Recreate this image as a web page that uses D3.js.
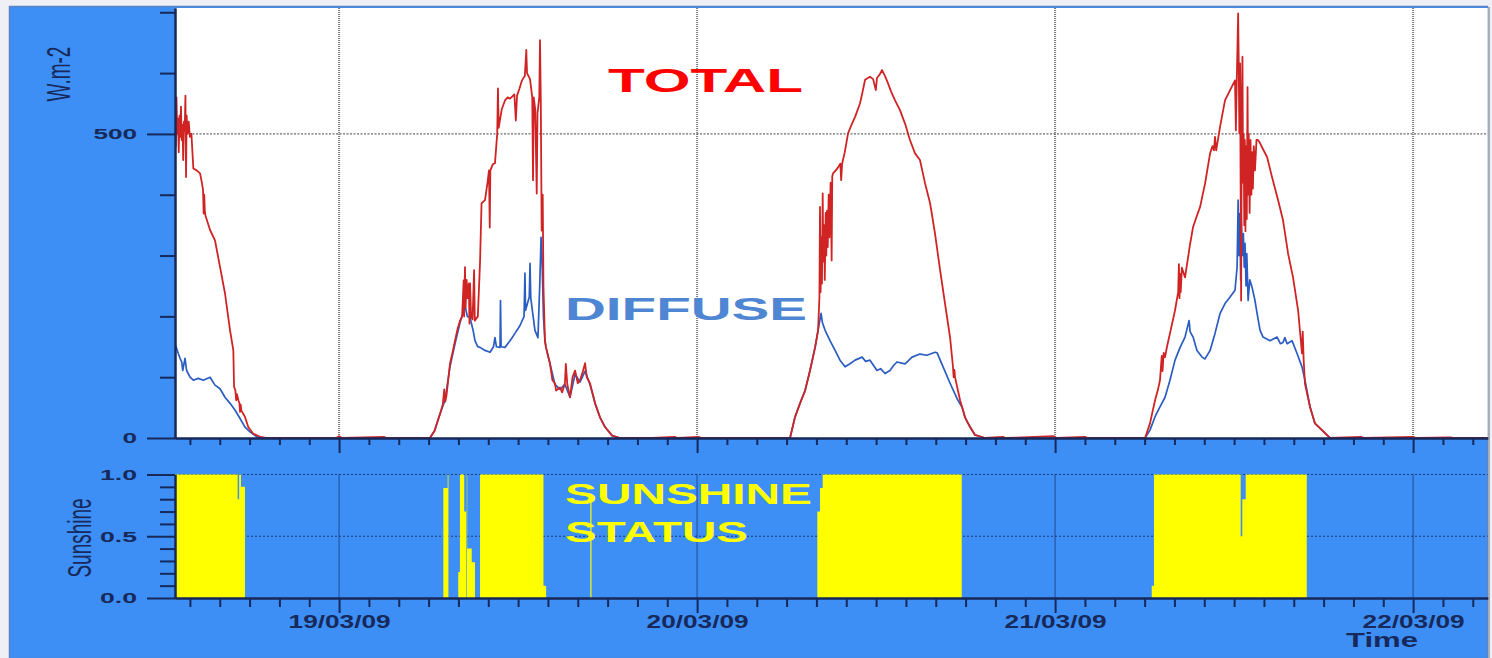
<!DOCTYPE html>
<html>
<head>
<meta charset="utf-8">
<script src="https://cdn.jsdelivr.net/npm/d3@7"></script>
<style>
  html, body { margin: 0; padding: 0; background: #eef0f5; }
  svg { display: block; }
</style>
</head>
<body>
<svg id="chart" width="1492" height="658"></svg>
<script>
// ---------------- DATA (hours counted from 18/03/09 00:00, values in W.m-2) ----------------
const totalReadings = [
  // 18/03 afternoon
  [13.00,540],[13.05,480],[13.10,560],[13.15,500],[13.20,525],[13.25,470],[13.30,530],[13.35,495],
  [13.40,545],[13.45,490],[13.50,515],[13.55,457],[13.60,520],[13.65,505],[13.70,563],[13.74,429],
  [13.78,530],[13.85,500],[13.92,520],[14.00,495],[14.10,500],[14.23,443],[14.45,440],[14.68,435],
  [14.80,420],[14.88,408],[14.92,369],[14.96,400],[15.00,372],[15.05,365],[15.35,342],[15.68,325],
  [16.02,281],[16.35,238],[16.69,177],[16.91,144],[16.96,84],[17.05,78],[17.10,62],[17.15,72],
  [17.25,62],[17.32,57],[17.36,43],[17.40,55],[17.45,45],[17.69,35],[17.91,18],[18.25,7],[18.70,2],
  [19.10,0],[22.00,0],[23.80,0],[24.00,3],[24.20,0],[27.00,2],[27.20,0],
  // 19/03
  [30.09,0],[30.40,12],[30.77,40],[30.95,55],[31.05,80],[31.12,60],[31.20,70],[31.44,123],[31.60,140],
  [31.77,160],[31.95,180],[32.11,193],[32.25,200],[32.35,259],[32.38,200],[32.44,281],[32.48,215],
  [32.55,260],[32.62,230],[32.70,254],[32.74,188],[32.78,254],[32.85,200],[32.95,195],[33.05,276],
  [33.10,193],[33.30,200],[33.45,290],[33.55,386],[33.78,391],[33.95,420],[34.05,440],[34.10,346],
  [34.14,440],[34.30,450],[34.45,452],[34.60,500],[34.65,575],[34.70,510],[34.90,540],[35.12,555],
  [35.30,560],[35.46,558],[35.75,565],[35.85,522],[35.93,563],[36.10,575],[36.26,588],[36.45,595],
  [36.55,638],[36.60,600],[36.80,590],[36.95,560],[37.00,424],[37.05,560],[37.15,540],[37.25,402],
  [37.30,534],[37.42,560],[37.47,654],[37.52,560],[37.58,341],[37.65,400],[37.70,250],[37.80,160],
  [37.87,149],[38.14,122],[38.30,95],[38.47,90],[38.55,78],[38.81,83],[38.95,75],[39.14,90],[39.20,122],
  [39.30,88],[39.48,67],[39.65,100],[39.82,111],[40.00,90],[40.15,95],[40.35,110],[40.49,123],[40.60,100],
  [40.82,90],[41.16,57],[41.49,34],[41.83,18],[42.30,4],[42.83,0],
  [45.00,0],[46.50,2],[46.70,0],[48.10,2],[48.30,0],
  // 20/03
  [54.23,0],[54.56,34],[54.90,57],[55.24,78],[55.57,111],[55.91,149],[56.11,177],[56.20,231],[56.24,380],
  [56.28,240],[56.33,330],[56.37,254],[56.42,402],[56.46,290],[56.52,350],[56.56,260],[56.62,370],
  [56.66,300],[56.71,374],[56.76,314],[56.82,400],[56.87,330],[56.95,420],[57.02,292],[57.06,430],
  [57.11,435],[57.30,440],[57.45,445],[57.60,451],[57.66,424],[57.72,451],[57.90,470],[58.12,501],
  [58.35,515],[58.59,528],[58.92,550],[59.10,570],[59.26,589],[59.45,592],[59.59,594],[59.80,590],
  [59.98,572],[60.06,592],[60.25,598],[60.40,605],[60.60,595],[60.80,583],[61.00,570],[61.27,555],
  [61.60,539],[61.94,517],[62.27,490],[62.61,468],[62.94,457],[63.28,419],[63.62,386],[63.95,336],
  [64.29,276],[64.62,221],[64.96,165],[65.15,118],[65.20,100],[65.25,112],[65.29,100],[65.63,62],
  [65.96,34],[66.30,18],[66.63,5],[67.30,0],
  [68.50,2],[68.70,0],[71.90,3],[72.10,0],[74.00,2],[74.20,0],
  // 21/03
  [78.03,0],[78.36,24],[78.70,62],[78.90,80],[79.03,95],[79.15,135],[79.20,110],[79.28,140],[79.37,133],
  [79.50,150],[79.70,172],[80.04,210],[80.25,240],[80.30,286],[80.34,230],[80.38,270],[80.42,240],
  [80.50,280],[80.71,264],[81.05,319],[81.25,347],[81.50,365],[81.72,380],[82.05,418],[82.39,468],
  [82.55,480],[82.65,473],[82.72,495],[82.80,473],[83.06,512],[83.39,555],[83.73,572],[84.06,588],
  [84.12,506],[84.18,590],[84.27,698],[84.31,616],[84.35,501],[84.40,616],[84.47,226],[84.52,560],
  [84.56,627],[84.60,420],[84.64,500],[84.68,350],[84.72,490],[84.76,340],[84.80,480],[84.85,360],
  [84.90,577],[84.94,400],[84.98,500],[85.04,370],[85.10,490],[85.16,400],[85.20,470],[85.26,410],
  [85.32,480],[85.40,440],[85.50,490],[85.60,490],[85.74,485],[85.87,478],[86.21,462],[86.54,429],
  [86.95,391],[87.28,358],[87.62,303],[87.95,264],[88.29,210],[88.40,180],[88.55,139],[88.60,175],
  [88.66,130],[88.75,89],[89.09,51],[89.42,24],[89.89,13],[90.43,0],
  [92.50,2],[92.70,0],[96.00,2],[96.20,0],[98.50,1],[98.70,0],[101.00,0]
];

const diffuseReadings = [
  // 18/03 afternoon
  [13.00,155],[13.22,139],[13.34,131],[13.45,125],[13.52,111],[13.67,131],[13.78,111],[14.01,100],
  [14.23,95],[14.56,98],[14.90,95],[15.35,100],[15.68,87],[16.02,81],[16.35,67],[16.69,57],[17.02,46],
  [17.36,32],[17.69,18],[18.03,10],[18.48,2],[19.10,0],[30.09,0],
  // 19/03
  [30.40,12],[30.77,40],[31.10,62],[31.44,118],[31.77,155],[32.11,190],[32.30,205],[32.44,218],
  [32.60,200],[32.78,198],[33.00,175],[33.11,160],[33.30,150],[33.45,149],[33.78,144],[34.12,141],
  [34.35,150],[34.45,165],[34.55,150],[34.79,149],[34.82,226],[34.86,150],[35.12,149],[35.46,160],
  [35.79,172],[36.13,185],[36.40,200],[36.46,271],[36.50,210],[36.75,232],[36.80,287],[36.85,230],
  [37.13,177],[37.33,165],[37.45,250],[37.54,330],[37.60,300],[37.70,200],[37.80,160],[37.87,149],
  [38.14,122],[38.47,88],[38.81,80],[39.14,88],[39.48,67],[39.82,105],[40.15,92],[40.49,110],[40.82,88],
  [41.16,57],[41.49,34],[41.83,18],[42.30,4],[42.83,0],[54.23,0],
  // 20/03
  [54.56,34],[54.90,57],[55.24,78],[55.57,111],[55.91,149],[56.11,177],[56.31,205],[56.40,190],
  [56.58,177],[56.91,160],[57.25,144],[57.58,128],[57.92,117],[58.25,122],[58.59,128],[59.06,133],
  [59.30,126],[59.59,128],[60.06,111],[60.30,114],[60.60,106],[60.93,111],[61.20,120],[61.40,125],
  [61.94,122],[62.41,133],[62.94,138],[63.41,136],[63.95,141],[64.09,140],[64.49,117],[64.96,90],
  [65.42,65],[65.76,51],[65.96,34],[66.30,18],[66.63,5],[67.30,0],[78.03,0],
  // 21/03
  [78.36,13],[78.70,35],[79.03,51],[79.37,67],[79.70,95],[80.04,128],[80.38,149],[80.71,166],
  [80.98,193],[81.05,175],[81.25,166],[81.51,144],[81.85,133],[82.05,130],[82.39,144],[82.72,172],
  [83.06,205],[83.39,221],[83.73,232],[84.06,243],[84.20,281],[84.27,391],[84.32,300],[84.38,369],
  [84.44,260],[84.47,369],[84.55,300],[84.62,336],[84.68,281],[84.73,320],[84.80,250],[84.85,303],
  [84.94,226],[85.05,260],[85.20,248],[85.40,226],[85.54,205],[85.74,177],[85.94,166],[86.41,160],
  [86.88,166],[87.10,155],[87.28,157],[87.40,165],[87.55,155],[87.88,160],[88.22,139],[88.55,117],
  [88.75,95],[89.09,51],[89.42,24],[89.89,13],[90.43,0],[101.00,0]
];

// sunshine status: value holds from this hour until the next entry
const sunshineSteps = [
  [13.00,1],[17.20,0.8],[17.30,1],[17.42,0.9],[17.69,0],
  [30.99,0.89],[31.28,1],[31.33,0],[31.99,0.21],[32.10,1],[32.39,0.7],[32.52,0],[32.56,1],[32.59,0.4],
  [32.89,0.29],[33.11,0],[33.45,1],[37.70,0.1],[37.88,0],
  [40.84,0.8],[40.92,0],
  [56.06,0.7],[56.24,0.89],[56.42,1],[65.74,0],
  [78.48,0.1],[78.63,1],[84.44,0.5],[84.55,0.8],[84.78,1],[88.87,0],
  [101.00,0]
];

const dayLabels = ["19/03/09", "20/03/09", "21/03/09", "22/03/09"];
const radMajorTicks = [0, 500];
const radMinorTicks = [100, 200, 300, 400, 600, 700];
const sunMajorTicks = [0, 0.5, 1];
const sunMinorTicks = [0.1, 0.2, 0.3, 0.4, 0.6, 0.7, 0.8, 0.9];
const radAxisTitle = "W.m-2";
const sunAxisTitle = "Sunshine";
const timeTitle = "Time";
const annotations = ["TOTAL", "DIFFUSE", "SUNSHINE", "STATUS"];

// ---------------- DRAWING ----------------
const BASE = Date.UTC(2009, 2, 18);
const at = h => new Date(BASE + h * 3600000);
const parseDay = d3.utcParse("%d/%m/%y");

const blue = "#3d8ef5";
const navy = "#16295a";

const svg = d3.select("#chart");

// outer frame
svg.append("rect").attr("x", 9.5).attr("y", 6.5).attr("width", 1478).attr("height", 652)
  .attr("fill", blue).attr("stroke", "#5b84c8").attr("stroke-width", 1.5);
svg.append("rect").attr("x", 1488).attr("y", 7).attr("width", 2).attr("height", 651).attr("fill", "#a7adb6");

const x = d3.scaleUtc().domain([at(13), at(101)]).range([175, 1487.7]);
const yRad = d3.scaleLinear().domain([0, 707]).range([438, 8]);
const ySun = d3.scaleLinear().domain([0, 1]).range([598, 474.5]);

// white plotting area
svg.append("rect").attr("x", 175).attr("y", 8).attr("width", 1312.7).attr("height", 430).attr("fill", "#ffffff");

const dayDates = dayLabels.map(parseDay);

// grid (top)
const gTop = svg.append("g");
gTop.selectAll("line.vg").data(dayDates).join("line")
  .attr("x1", d => x(d)).attr("x2", d => x(d)).attr("y1", yRad.range()[1]).attr("y2", yRad(0))
  .attr("stroke", "#7a7a7a").attr("stroke-width", 2).attr("stroke-dasharray", "1 1");
gTop.append("line").attr("x1", 175).attr("x2", x.range()[1]).attr("y1", yRad(500)).attr("y2", yRad(500))
  .attr("stroke", "#444").attr("stroke-width", 1).attr("stroke-dasharray", "2 1.5");

// grid (sunshine)
const gSun = svg.append("g");
gSun.selectAll("line.vg").data(dayDates).join("line")
  .attr("x1", d => x(d)).attr("x2", d => x(d)).attr("y1", ySun(1)).attr("y2", ySun(0))
  .attr("stroke", "#1b3a7a").attr("stroke-width", 1.6).attr("stroke-dasharray", "1 1");
gSun.selectAll("line.hg").data([0.5, 1]).join("line")
  .attr("x1", 175).attr("x2", x.range()[1]).attr("y1", d => ySun(d)).attr("y2", d => ySun(d))
  .attr("stroke", "#1b3a7a").attr("stroke-width", 1.2).attr("stroke-dasharray", "2 2");

// sunshine area
const sunArea = d3.area()
  .x(d => x(at(d[0]))).y0(ySun(0)).y1(d => ySun(d[1]))
  .curve(d3.curveStepAfter);
svg.append("path").datum(sunshineSteps).attr("d", sunArea).attr("fill", "#ffff00");

// radiation lines
svg.append("clipPath").attr("id", "clipTop").append("rect")
  .attr("x", 175).attr("y", 8).attr("width", 1312.7).attr("height", 431);
const line = d3.line().x(d => x(at(d[0]))).y(d => yRad(d[1]));
svg.append("path").datum(diffuseReadings).attr("d", line).attr("clip-path", "url(#clipTop)")
  .attr("fill", "none").attr("stroke", "#2a5cc2").attr("stroke-width", 1.7).attr("stroke-linejoin", "round");
svg.append("path").datum(totalReadings).attr("d", line).attr("clip-path", "url(#clipTop)")
  .attr("fill", "none").attr("stroke", "#d02424").attr("stroke-width", 1.8).attr("stroke-linejoin", "round");

// axes
function styleAxis(g) {
  g.attr("font-family", null).attr("font-size", null);
  g.selectAll("path, line").attr("stroke", navy).attr("stroke-width", 2);
}
function styleTickText(g, widthPerChar) {
  g.selectAll("text")
    .attr("fill", navy).attr("font-family", "Liberation Sans, Arial, sans-serif")
    .attr("font-weight", "bold").attr("font-size", 15)
    .attr("textLength", function () { const t = d3.select(this).text(); return t.replace(".", "").length * widthPerChar + (t.includes(".") ? 7 : 0); })
    .attr("lengthAdjust", "spacingAndGlyphs");
}

const minorHours = x.ticks(d3.utcHour.every(2)).filter(d => d.getUTCHours() !== 0);

// top panel x axis
svg.append("g").attr("transform", `translate(0,${yRad(0)})`)
  .call(d3.axisBottom(x).tickValues(minorHours).tickSize(7).tickSizeOuter(0).tickFormat(""))
  .call(styleAxis);
svg.append("g").attr("transform", `translate(0,${yRad(0)})`)
  .call(d3.axisBottom(x).tickValues(dayDates).tickSize(15).tickSizeOuter(0).tickFormat(""))
  .call(styleAxis);

// top panel y axis
svg.append("g").attr("transform", "translate(175,0)")
  .call(d3.axisLeft(yRad).tickValues(radMinorTicks).tickSize(15).tickSizeOuter(0).tickFormat(""))
  .call(styleAxis);
svg.append("g").attr("transform", "translate(175,0)")
  .call(d3.axisLeft(yRad).tickValues(radMajorTicks).tickSize(28).tickSizeOuter(0).tickPadding(10).tickFormat(d3.format("d")))
  .call(styleAxis).call(g => styleTickText(g, 14.5));

// sunshine x axis
svg.append("g").attr("transform", `translate(0,${ySun(0)})`)
  .call(d3.axisBottom(x).tickValues(minorHours).tickSize(9).tickSizeOuter(0).tickFormat(""))
  .call(styleAxis);
const sunXAxis = svg.append("g").attr("transform", `translate(0,${ySun(0)})`)
  .call(d3.axisBottom(x).tickValues(dayDates).tickSize(15).tickSizeOuter(0).tickPadding(4)
    .tickFormat((d, i) => dayLabels[i]))
  .call(styleAxis);
sunXAxis.selectAll("text")
  .attr("y", 30).attr("dy", 0).attr("fill", navy)
  .attr("font-family", "Liberation Sans, Arial, sans-serif").attr("font-weight", "bold").attr("font-size", 19)
  .attr("textLength", 102).attr("lengthAdjust", "spacingAndGlyphs");

// sunshine y axis
svg.append("g").attr("transform", "translate(175,0)")
  .call(d3.axisLeft(ySun).tickValues(sunMinorTicks).tickSize(15).tickSizeOuter(0).tickFormat(""))
  .call(styleAxis);
svg.append("g").attr("transform", "translate(175,0)")
  .call(d3.axisLeft(ySun).tickValues(sunMajorTicks).tickSize(28).tickSizeOuter(0).tickPadding(10).tickFormat(d3.format(".1f")))
  .call(styleAxis).call(g => styleTickText(g, 15));

// axis titles
svg.append("text").attr("transform", "translate(70,74) scale(1.75,1) rotate(-90)")
  .attr("text-anchor", "middle").attr("fill", navy)
  .attr("font-family", "Liberation Sans, Arial, sans-serif").attr("font-size", 19).text(radAxisTitle);
svg.append("text").attr("transform", "translate(91,538) scale(1.75,1) rotate(-90)")
  .attr("text-anchor", "middle").attr("fill", navy)
  .attr("font-family", "Liberation Sans, Arial, sans-serif").attr("font-size", 19).text(sunAxisTitle);
svg.append("text").attr("x", 1346).attr("y", 647).attr("fill", navy)
  .attr("font-family", "Liberation Sans, Arial, sans-serif").attr("font-weight", "bold").attr("font-size", 20)
  .attr("textLength", 72).attr("lengthAdjust", "spacingAndGlyphs").text(timeTitle);

// annotations
const annFont = "Liberation Sans, Arial, sans-serif";
svg.append("text").attr("x", 608).attr("y", 92).attr("fill", "#ff0000")
  .attr("font-family", annFont).attr("font-weight", "bold").attr("font-size", 33)
  .attr("textLength", 195).attr("lengthAdjust", "spacingAndGlyphs").text(annotations[0]);
svg.append("text").attr("x", 565).attr("y", 320).attr("fill", "#4f86d3")
  .attr("font-family", annFont).attr("font-weight", "bold").attr("font-size", 32)
  .attr("textLength", 242).attr("lengthAdjust", "spacingAndGlyphs").text(annotations[1]);
svg.append("text").attr("x", 565).attr("y", 504).attr("fill", "#ffff00")
  .attr("font-family", annFont).attr("font-weight", "bold").attr("font-size", 29)
  .attr("textLength", 247).attr("lengthAdjust", "spacingAndGlyphs").text(annotations[2]);
svg.append("text").attr("x", 565).attr("y", 542).attr("fill", "#ffff00")
  .attr("font-family", annFont).attr("font-weight", "bold").attr("font-size", 30)
  .attr("textLength", 183).attr("lengthAdjust", "spacingAndGlyphs").text(annotations[3]);
</script>
</body>
</html>
